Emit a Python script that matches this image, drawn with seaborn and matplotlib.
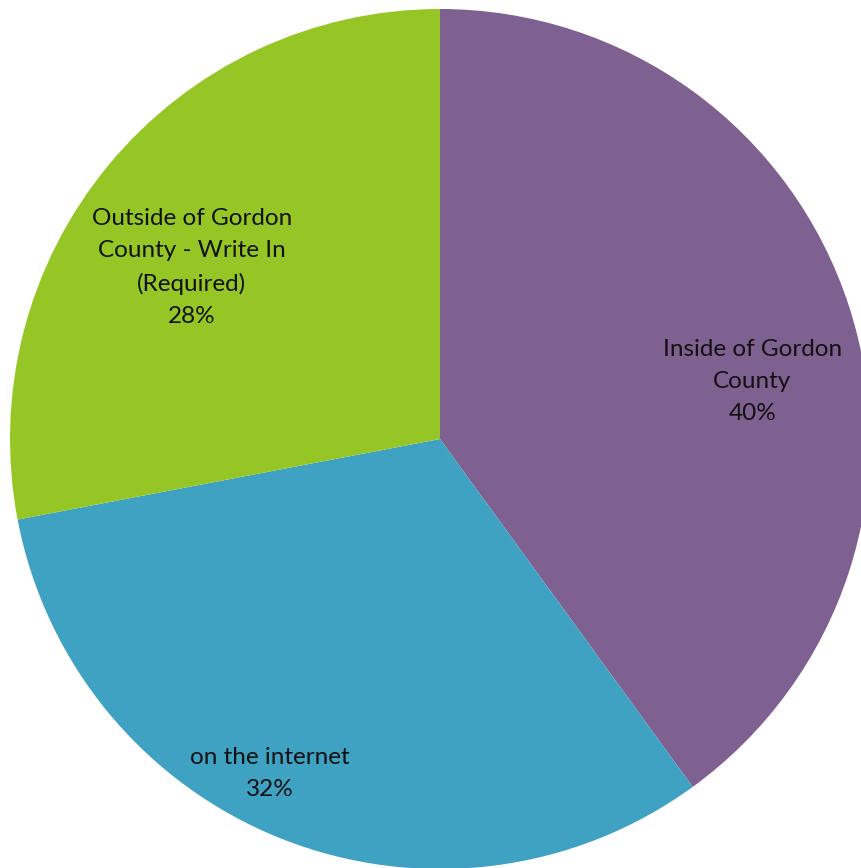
import matplotlib
matplotlib.use("Agg")
import matplotlib.pyplot as plt
import seaborn as sns

# ============ Data ============
labels = ["Inside of Gordon\nCounty", "on the internet", "Outside of Gordon\nCounty - Write In\n(Required)"]
shares = [40, 32, 28]
colors = ["#7E6190", "#3FA2C2", "#95C626"]

# label anchor points inside each slice (pie radius = 1)
label_pos = [(0.726, 0.133), (-0.395, -0.777), (-0.577, 0.398)]

# ============ Style ============
sns.set_theme(style="white")
plt.rcParams['font.family'] = ['Lato', 'DejaVu Sans']

fig = plt.figure(figsize=(8.61, 8.68), dpi=100)
ax = fig.add_axes([10 / 861, -1 / 868, 860 / 861, 860 / 868])

ax.pie(shares, colors=sns.color_palette(colors), startangle=90, counterclock=False,
       radius=1, wedgeprops=dict(linewidth=0, antialiased=True))

total = sum(shares)
for lab, val, (x, y) in zip(labels, shares, label_pos):
    ax.text(x, y, f"{lab}\n{round(100 * val / total)}%", ha="center", va="center",
            fontsize=17.5, color="#111111", linespacing=1.65)

ax.set_xlim(-1, 1)
ax.set_ylim(-1, 1)
ax.set_aspect("equal")
ax.axis("off")

fig.savefig("out.png", dpi=100)
